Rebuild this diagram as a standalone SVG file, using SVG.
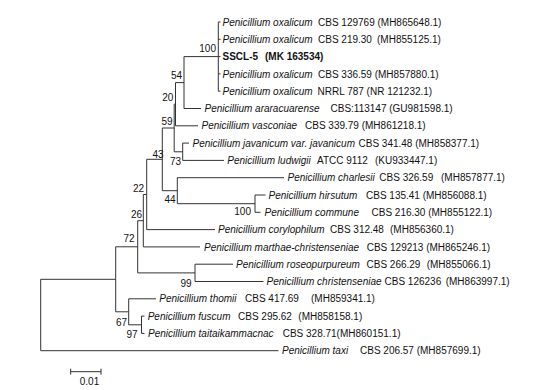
<svg xmlns="http://www.w3.org/2000/svg" width="559" height="390" viewBox="0 0 559 390">
<style>
text { font-family: "Liberation Sans", Arial, sans-serif; font-size: 10px; fill: #111; }
.sp { font-style: italic; }
.b { font-weight: bold; }
.bs { text-anchor: end; }
.br { fill: none; stroke: #333; stroke-width: 1; }
</style>
<rect width="559" height="390" fill="#fff"/>
<g id="connectors" class="br">
<path d="M40.7 279.3V350.7M40.7 279.3H115.7M40.7 350.7H278.5"/>
<path d="M115.7 246.8V311.8M115.7 246.8H137.7M115.7 311.8H128.7"/>
<path d="M137.7 220.7V272.9M137.7 220.7H143.3M137.7 272.9H195"/>
<path d="M143.3 194.5V246.9M143.3 194.5H146.7M143.3 246.9H200"/>
<path d="M146.7 159.3V229.6M146.7 159.3H162.3M146.7 229.6H215"/>
<path d="M162.3 128V190.7M162.3 128H174.2M162.3 190.7H177.3"/>
<path d="M174.2 104.2V151.8M174.2 104.2H175.5M174.2 151.8H182.7"/>
<path d="M175.5 82.6V125.8M175.5 82.6H184M175.5 125.8H198"/>
<path d="M184 56.6V108.5M184 56.6H218.3M184 108.5H201"/>
<path d="M218.3 22V91.2M218.3 22H220.5M218.3 39.3H220.5M218.3 56.6H220.5M218.3 73.9H220.5M218.3 91.2H220.5"/>
<path d="M182.7 143.1V160.4M182.7 143.1H189M182.7 160.4H224"/>
<path d="M177.3 177.7V203.7M177.3 177.7H284M177.3 203.7H255"/>
<path d="M255 195V212.3M255 195H265.5M255 212.3H260.5"/>
<path d="M195 264.2V281.5M195 264.2H233M195 281.5H263.5"/>
<path d="M128.7 298.8V324.8M128.7 298.8H156M128.7 324.8H141.5"/>
<path d="M141.5 316.1V333.4M141.5 316.1H144.5M141.5 333.4H144.5"/>
</g>
<g id="leaf-oxalicum-129769"><text x="222.5" y="25.6"><tspan class="sp">Penicillium oxalicum</tspan><tspan x="318">CBS 129769 (MH865648.1)</tspan></text></g>
<g id="leaf-oxalicum-219"><text x="222.5" y="42.9"><tspan class="sp">Penicillium oxalicum</tspan><tspan x="318">CBS 219.30</tspan><tspan x="377">(MH855125.1)</tspan></text></g>
<g id="leaf-sscl5"><text class="b" x="222.5" y="60.2">SSCL-5<tspan x="265">(MK 163534)</tspan></text></g>
<g id="leaf-oxalicum-336"><text x="222.5" y="77.5"><tspan class="sp">Penicillium oxalicum</tspan><tspan x="318">CBS 336.59 (MH857880.1)</tspan></text></g>
<g id="leaf-oxalicum-nrrl"><text x="222.5" y="94.8"><tspan class="sp">Penicillium oxalicum</tspan><tspan x="317.5">NRRL 787 (NR 121232.1)</tspan></text></g>
<g id="leaf-araracuarense"><text x="204.5" y="112.1"><tspan class="sp">Penicillium araracuarense</tspan><tspan x="330.5">CBS:113147 (GU981598.1)</tspan></text></g>
<g id="leaf-vasconiae"><text x="201.5" y="129.4"><tspan class="sp">Penicillium vasconiae</tspan><tspan x="305">CBS 339.79 (MH861218.1)</tspan></text></g>
<g id="leaf-javanicum"><text x="192.5" y="146.7"><tspan class="sp">Penicillium javanicum var. javanicum</tspan><tspan x="358.5">CBS 341.48 (MH858377.1)</tspan></text></g>
<g id="leaf-ludwigii"><text x="227.3" y="164"><tspan class="sp">Penicillium ludwigii</tspan><tspan x="317">ATCC 9112</tspan><tspan x="375">(KU933447.1)</tspan></text></g>
<g id="leaf-charlesii"><text x="287.5" y="181.3"><tspan class="sp">Penicillium charlesii</tspan><tspan x="379.3">CBS 326.59</tspan><tspan x="441">(MH857877.1)</tspan></text></g>
<g id="leaf-hirsutum"><text x="268.5" y="198.6"><tspan class="sp">Penicillium hirsutum</tspan><tspan x="366">CBS 135.41 (MH856088.1)</tspan></text></g>
<g id="leaf-commune"><text x="264.5" y="215.9"><tspan class="sp">Penicillium commune</tspan><tspan x="371.5">CBS 216.30 (MH855122.1)</tspan></text></g>
<g id="leaf-corylophilum"><text x="218" y="233.2"><tspan class="sp">Penicillium corylophilum</tspan><tspan x="330">CBS 312.48</tspan><tspan x="390">(MH856360.1)</tspan></text></g>
<g id="leaf-marthae"><text x="204" y="250.5"><tspan class="sp">Penicillium marthae-christenseniae</tspan><tspan x="366.7">CBS 129213 (MH865246.1)</tspan></text></g>
<g id="leaf-roseopurpureum"><text x="236" y="267.8"><tspan class="sp">Penicillium roseopurpureum</tspan><tspan x="366.5">CBS 266.29</tspan><tspan x="426.7">(MH855066.1)</tspan></text></g>
<g id="leaf-christenseniae"><text x="266.5" y="285.1"><tspan class="sp">Penicillium christenseniae</tspan><tspan x="384.5">CBS 126236</tspan><tspan x="445.7">(MH863997.1)</tspan></text></g>
<g id="leaf-thomii"><text x="159.3" y="302.4"><tspan class="sp">Penicillium thomii</tspan><tspan x="245">CBS 417.69</tspan><tspan x="311">(MH859341.1)</tspan></text></g>
<g id="leaf-fuscum"><text x="147.7" y="319.7"><tspan class="sp">Penicillium fuscum</tspan><tspan x="238">CBS 295.62</tspan><tspan x="298.3">(MH858158.1)</tspan></text></g>
<g id="leaf-taitaikammacnac"><text x="148" y="337"><tspan class="sp">Penicillium taitaikammacnac</tspan><tspan x="282.7">CBS 328.71(MH860151.1)</tspan></text></g>
<g id="leaf-taxi"><text x="282" y="354.3"><tspan class="sp">Penicillium taxi</tspan><tspan x="360">CBS 206.57 (MH857699.1)</tspan></text></g>
<g id="node-100a"><text class="bs" x="216" y="52">100</text></g>
<g id="node-54"><text class="bs" x="182" y="79">54</text></g>
<g id="node-20"><text class="bs" x="173.3" y="101">20</text></g>
<g id="node-59"><text class="bs" x="172.7" y="124.5">59</text></g>
<g id="node-43"><text class="bs" x="163.5" y="157.8">43</text></g>
<g id="node-22"><text class="bs" x="144" y="192">22</text></g>
<g id="node-26"><text class="bs" x="142" y="217.8">26</text></g>
<g id="node-72"><text class="bs" x="134.5" y="242">72</text></g>
<g id="node-73"><text class="bs" x="181" y="165.1">73</text></g>
<g id="node-44"><text class="bs" x="175.5" y="202.9">44</text></g>
<g id="node-100b"><text class="bs" x="251" y="215.3">100</text></g>
<g id="node-99"><text class="bs" x="191.5" y="286.5">99</text></g>
<g id="node-67"><text class="bs" x="127" y="326.3">67</text></g>
<g id="node-97"><text class="bs" x="137.5" y="338.4">97</text></g>
<g id="scale-bar">
<path class="br" d="M70.7 371.7H101M70.7 368.7V374.7M101 368.7V374.7"/>
<text x="89.5" y="384.5" text-anchor="middle">0.01</text>
</g>
</svg>
